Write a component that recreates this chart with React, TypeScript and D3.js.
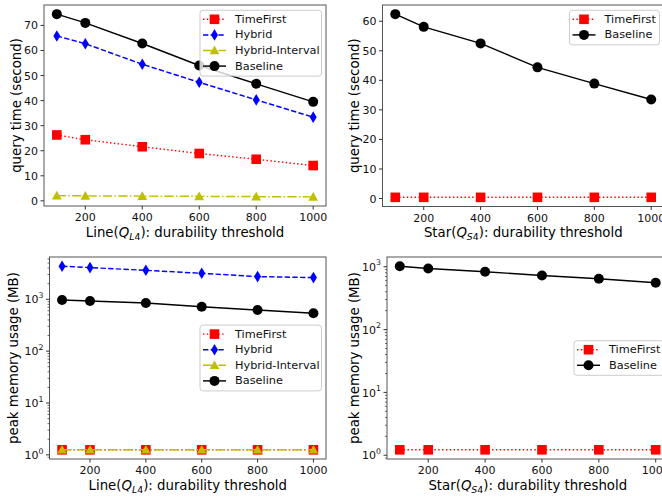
import * as d3 from "d3";

// durability thresholds on the x axis
const thresholds = [100, 200, 400, 600, 800, 1000];
const xTicks = [200, 400, 600, 800, 1000];

// query time (second), Line(Q_L4)
const lineTimeFirst = [26.3, 24.4, 21.6, 18.9, 16.6, 14.1];
const lineHybrid = [65.8, 62.7, 54.5, 47.3, 40.3, 33.4];
const lineHybridInterval = [2.1, 2.0, 1.9, 1.8, 1.7, 1.6];
const lineBaseline = [74.5, 71.0, 62.8, 54.0, 46.7, 39.5];

// query time (second), Star(Q_S4)
const starTimeFirst = [0.4, 0.4, 0.4, 0.4, 0.4, 0.4];
const starBaseline = [62.4, 58.1, 52.5, 44.4, 38.9, 33.5];

// peak memory usage (MB), Line(Q_L4)
const lineMemTimeFirst = [1.25, 1.25, 1.25, 1.25, 1.25, 1.25];
const lineMemHybrid = [4350, 4080, 3620, 3170, 2740, 2620];
const lineMemHybridInterval = [1.25, 1.25, 1.25, 1.25, 1.25, 1.25];
const lineMemBaseline = [970, 925, 850, 720, 620, 537];

// peak memory usage (MB), Star(Q_S4)
const starMemTimeFirst = [1.22, 1.22, 1.22, 1.22, 1.22, 1.22];
const starMemBaseline = [1020, 940, 830, 727, 643, 556];

const lineTimeTicks = [0, 10, 20, 30, 40, 50, 60, 70];
const starTimeTicks = [0, 10, 20, 30, 40, 50, 60];
const memTicks = [1, 10, 100, 1000];

const FONT = "DejaVu Sans, Verdana, sans-serif";
const LW = 1.45;
const TICK_FS = 11;
const LABEL_FS = 13.3;
const LEGEND_FS = 11.3;

const STYLE: Record<string, { color: string; dash?: string; marker: string }> = {
  TimeFirst: { color: "#ff0000", dash: `${LW},${LW * 1.65}`, marker: "square" },
  Hybrid: { color: "#0000ff", dash: `${LW * 3.7},${LW * 1.6}`, marker: "diamond" },
  "Hybrid-Interval": {
    color: "#bfbf00",
    dash: `${LW * 6.4},${LW * 1.6},${LW},${LW * 1.6}`,
    marker: "triangle",
  },
  Baseline: { color: "#000000", marker: "circle" },
};

type Series = { name: string; values: number[] };
type Box = { left: number; top: number; right: number; bottom: number };

function Marker({ kind, x, y, color }: { kind: string; x: number; y: number; color: string }) {
  const t = `translate(${x},${y})`;
  if (kind === "square") return <rect x={-4.8} y={-4.8} width={9.6} height={9.6} transform={t} fill={color} />;
  if (kind === "circle") return <circle cx={x} cy={y} r={5} fill={color} />;
  if (kind === "diamond")
    return <path d="M0,-5.8L3.5,0L0,5.8L-3.5,0Z" transform={t} fill={color} />;
  return <path d="M0,-4.9L4.9,3.8L-4.9,3.8Z" transform={t} fill={color} />;
}

function XLabel({ x, y, prefix, sub }: { x: number; y: number; prefix: string; sub: string }) {
  return (
    <text x={x} y={y} textAnchor="middle" fontSize={LABEL_FS} fontFamily={FONT} fill="#000">
      <tspan>{prefix}(</tspan>
      <tspan fontStyle="italic">Q</tspan>
      <tspan fontSize={9.4} dy={3} fontStyle="italic">{sub[0]}</tspan>
      <tspan fontSize={9.4}>{sub.slice(1)}</tspan>
      <tspan dy={-3}>): durability threshold</tspan>
    </text>
  );
}

function Panel({
  box,
  series,
  log,
  yTicks,
  yLabel,
  yLabelX,
  prefix,
  sub,
  legendLoc,
  legendWidth,
}: {
  box: Box;
  series: Series[];
  log: boolean;
  yTicks: number[];
  yLabel: string;
  yLabelX: number;
  prefix: string;
  sub: string;
  legendLoc: "upper right" | "center right";
  legendWidth: number;
}) {
  const x = d3.scaleLinear().domain([55, 1045]).range([box.left, box.right]);
  const all = series.flatMap((s) => s.values);
  let y: any;
  if (log) {
    const lo = Math.log10(d3.min(all)!);
    const hi = Math.log10(d3.max(all)!);
    const m = (hi - lo) * 0.05;
    y = d3.scaleLog().domain([10 ** (lo - m), 10 ** (hi + m)]).range([box.bottom, box.top]);
  } else {
    const lo = d3.min(all)!;
    const hi = d3.max(all)!;
    const m = (hi - lo) * 0.05;
    y = d3.scaleLinear().domain([lo - m, hi + m]).range([box.bottom, box.top]);
  }

  const minor: number[] = [];
  if (log) {
    const [d0, d1] = y.domain();
    for (let k = Math.floor(Math.log10(d0)); k <= Math.ceil(Math.log10(d1)); k++) {
      for (let j = 2; j <= 9; j++) {
        const v = j * 10 ** k;
        if (v >= d0 && v <= d1) minor.push(v);
      }
    }
  }

  const line = d3
    .line<number>()
    .x((_, i) => x(thresholds[i]))
    .y((d) => y(d));

  const cy = (box.top + box.bottom) / 2;
  const cx = (box.left + box.right) / 2;

  // legend
  const rowH = 15.6;
  const lh = 9 + (series.length - 1) * rowH + 10;
  const lx = box.right - 4.5 - legendWidth;
  const ly = legendLoc === "upper right" ? box.top + 5.3 : cy - lh / 2;

  return (
    <g>
      {series.map((s) => {
        const st = STYLE[s.name];
        return (
          <g key={s.name}>
            <path
              d={line(s.values) || ""}
              fill="none"
              stroke={st.color}
              strokeWidth={LW}
              strokeDasharray={st.dash}
            />
            {s.values.map((v, i) => (
              <Marker key={i} kind={st.marker} x={x(thresholds[i])} y={y(v)} color={st.color} />
            ))}
          </g>
        );
      })}

      {/* spines */}
      <rect
        x={box.left}
        y={box.top}
        width={box.right - box.left}
        height={box.bottom - box.top}
        fill="none"
        stroke="#555"
        strokeWidth={1}
      />

      {/* x ticks */}
      {xTicks.map((t) => (
        <g key={t}>
          <line x1={x(t)} x2={x(t)} y1={box.bottom} y2={box.bottom + 3.5} stroke="#333" />
          <text
            x={x(t)}
            y={box.bottom + 15}
            textAnchor="middle"
            fontSize={TICK_FS}
            fontFamily={FONT}
            fill="#111"
          >
            {t}
          </text>
        </g>
      ))}

      {/* y ticks */}
      {minor.map((t) => (
        <line key={"m" + t} x1={box.left - 2} x2={box.left} y1={y(t)} y2={y(t)} stroke="#333" strokeWidth={0.7} />
      ))}
      {yTicks.map((t) => (
        <g key={t}>
          <line x1={box.left - 3.5} x2={box.left} y1={y(t)} y2={y(t)} stroke="#333" />
          {log ? (
            <text
              x={box.left - 6}
              y={y(t) + 4.2}
              textAnchor="end"
              fontSize={TICK_FS}
              fontFamily={FONT}
              fill="#111"
            >
              10
              <tspan fontSize={7.8} dy={-5.5}>
                {Math.round(Math.log10(t))}
              </tspan>
            </text>
          ) : (
            <text
              x={box.left - 6}
              y={y(t) + 4}
              textAnchor="end"
              fontSize={TICK_FS}
              fontFamily={FONT}
              fill="#111"
            >
              {t}
            </text>
          )}
        </g>
      ))}

      <text
        transform={`translate(${yLabelX},${cy}) rotate(-90)`}
        textAnchor="middle"
        dominantBaseline="central"
        fontSize={LABEL_FS}
        fontFamily={FONT}
        fill="#000"
      >
        {yLabel}
      </text>
      <XLabel x={cx} y={box.bottom + 30.5} prefix={prefix} sub={sub} />

      {/* legend */}
      <rect
        x={lx}
        y={ly}
        width={legendWidth}
        height={lh}
        rx={3}
        fill="#fff"
        fillOpacity={0.8}
        stroke="#ccc"
        strokeWidth={1}
      />
      {series.map((s, i) => {
        const st = STYLE[s.name];
        const ry = ly + 9 + i * rowH;
        return (
          <g key={"l" + s.name}>
            <line
              x1={lx + 3}
              x2={lx + 26}
              y1={ry}
              y2={ry}
              stroke={st.color}
              strokeWidth={LW}
              strokeDasharray={st.dash}
            />
            <Marker kind={st.marker} x={lx + 14.5} y={ry} color={st.color} />
            <text
              x={lx + 35}
              y={ry}
              dominantBaseline="central"
              fontSize={LEGEND_FS}
              fontFamily={FONT}
              fill="#111"
            >
              {s.name}
            </text>
          </g>
        );
      })}
    </g>
  );
}

export default function App() {
  return (
    <svg
      width={662}
      height={497}
      style={{ position: "absolute", left: 0, top: 0, background: "#fff" }}
    >
      <Panel
        box={{ left: 44, top: 5, right: 326, bottom: 206 }}
        series={[
          { name: "TimeFirst", values: lineTimeFirst },
          { name: "Hybrid", values: lineHybrid },
          { name: "Hybrid-Interval", values: lineHybridInterval },
          { name: "Baseline", values: lineBaseline },
        ]}
        log={false}
        yTicks={lineTimeTicks}
        yLabel="query time (second)"
        yLabelX={16}
        prefix="Line"
        sub="L4"
        legendLoc="upper right"
        legendWidth={121.5}
      />
      <Panel
        box={{ left: 382.5, top: 5, right: 664, bottom: 206.5 }}
        series={[
          { name: "TimeFirst", values: starTimeFirst },
          { name: "Baseline", values: starBaseline },
        ]}
        log={false}
        yTicks={starTimeTicks}
        yLabel="query time (second)"
        yLabelX={354}
        prefix="Star"
        sub="S4"
        legendLoc="upper right"
        legendWidth={90}
      />
      <Panel
        box={{ left: 49.5, top: 257, right: 326, bottom: 459 }}
        series={[
          { name: "TimeFirst", values: lineMemTimeFirst },
          { name: "Hybrid", values: lineMemHybrid },
          { name: "Hybrid-Interval", values: lineMemHybridInterval },
          { name: "Baseline", values: lineMemBaseline },
        ]}
        log={true}
        yTicks={memTicks}
        yLabel="peak memory usage (MB)"
        yLabelX={13}
        prefix="Line"
        sub="L4"
        legendLoc="center right"
        legendWidth={121.5}
      />
      <Panel
        box={{ left: 387, top: 257, right: 668.5, bottom: 459 }}
        series={[
          { name: "TimeFirst", values: starMemTimeFirst },
          { name: "Baseline", values: starMemBaseline },
        ]}
        log={true}
        yTicks={memTicks}
        yLabel="peak memory usage (MB)"
        yLabelX={354}
        prefix="Star"
        sub="S4"
        legendLoc="center right"
        legendWidth={90}
      />
    </svg>
  );
}
